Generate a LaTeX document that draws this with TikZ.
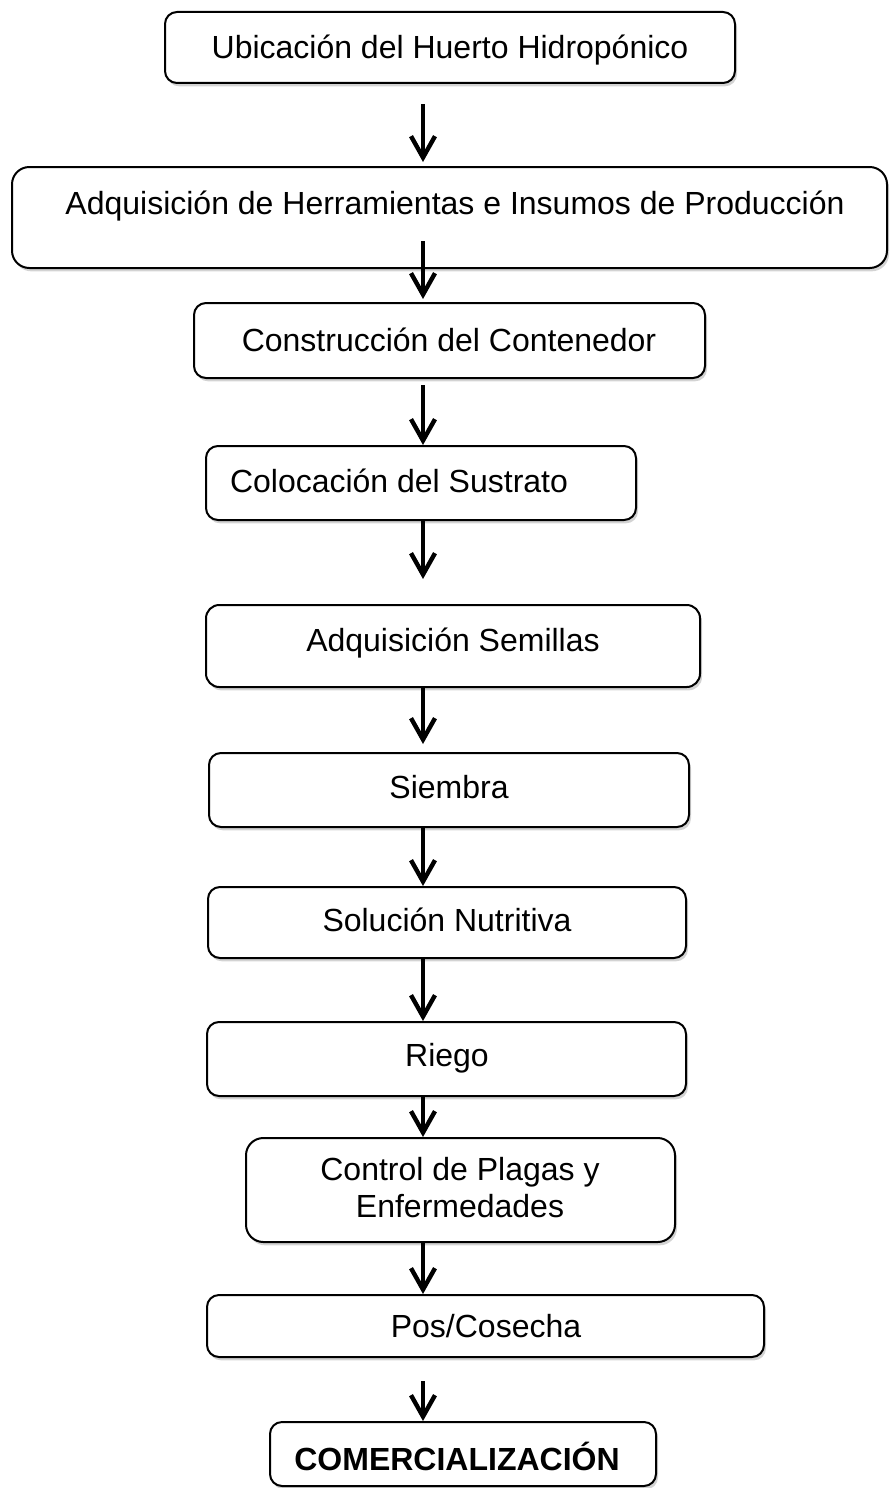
\documentclass[tikz,border=0pt]{standalone}
\usepackage{fontspec}
\setmainfont{Liberation Sans}
\usetikzlibrary{arrows.meta,shadows,calc}

\begin{document}
\begin{tikzpicture}[x=0.75pt,y=-0.75pt]
\tikzset{caja/.style={draw, line width=1.5pt, rounded corners=9pt, fill=white, inner sep=0pt,
    drop shadow={shadow xshift=1.5pt, shadow yshift=-2.5pt, opacity=0.35}},
  texto/.style={inner sep=0pt, align=center, font=\fontsize{24}{27.75}\selectfont},
  flecha/.style={line width=3.3pt, -{Straight Barb[length=16pt, width=18pt]}}}
\useasboundingbox (0,0) rectangle (889,1488);
\coordinate (eje) at (423,0);
% cajas
\node[caja, minimum width=427.5pt, minimum height=53.25pt] (b1) at (450,47.5) {};
\node[caja, rounded corners=13pt, minimum width=656.25pt, minimum height=75.75pt] (b2) at (449.5,217.5) {};
\node[caja, minimum width=383.25pt, minimum height=56.25pt] (b3) at (449.5,340.5) {};
\node[caja, minimum width=322.5pt, minimum height=55.5pt] (b4) at (421,483) {};
\node[caja, rounded corners=10pt, minimum width=370.5pt, minimum height=61.5pt] (b5) at (453,646) {};
\node[caja, minimum width=360pt, minimum height=55.5pt] (b6) at (449,790) {};
\node[caja, minimum width=358.5pt, minimum height=53.25pt] (b7) at (447,922.5) {};
\node[caja, minimum width=359.25pt, minimum height=55.5pt] (b8) at (446.5,1059) {};
\node[caja, rounded corners=13pt, minimum width=321.75pt, minimum height=78pt] (b9) at (460.5,1190) {};
\node[caja, minimum width=417.75pt, minimum height=46.5pt] (b10) at (485.5,1326) {};
\node[caja, minimum width=289.5pt, minimum height=48pt] (b11) at (463,1454) {};
% textos
\node[texto, anchor=base] (t1) at (450,58.5) {Ubicación del Huerto Hidropónico};
\node[texto, anchor=base] (t2) at (455,214.5) {Adquisición de Herramientas e Insumos de Producción};
\node[texto, anchor=base] (t3) at (449,351.5) {Construcción del Contenedor};
\node[texto, anchor=base] (t4) at (399,492.5) {Colocación del Sustrato};
\node[texto, anchor=base] (t5) at (453,651.5) {Adquisición Semillas};
\node[texto, anchor=base] (t6) at (449,798.5) {Siembra};
\node[texto, anchor=base] (t7) at (447,931.5) {Solución Nutritiva};
\node[texto, anchor=base] (t8) at (447,1066.5) {Riego};
\node[texto] (t9) at (460,1188) {Control de Plagas y\\Enfermedades};
\node[texto, anchor=base] (t10) at (486,1337.5) {Pos/Cosecha};
\node[texto, anchor=base, font=\fontsize{24}{27.75}\selectfont\bfseries] (t11) at (457,1470) {COMERCIALIZACIÓN};
% flechas
\draw[flecha] ($(b1.south -| eje)+(0,20)$) -- ($(b2.north -| eje)+(0,-4)$);
\draw[flecha] ($(b2.south -| eje)+(0,-28)$) -- ($(b3.north -| eje)+(0,-3)$);
\draw[flecha] ($(b3.south -| eje)+(0,6)$) -- (b4.north -| eje);
\draw[flecha] (b4.south -| eje) -- ($(b5.north -| eje)+(0,-25)$);
\draw[flecha] (b5.south -| eje) -- ($(b6.north -| eje)+(0,-8)$);
\draw[flecha] (b6.south -| eje) -- (b7.north -| eje);
\draw[flecha] (b7.south -| eje) -- (b8.north -| eje);
\draw[flecha] (b8.south -| eje) -- (b9.north -| eje);
\draw[flecha] (b9.south -| eje) -- (b10.north -| eje);
\draw[flecha] ($(b10.south -| eje)+(0,23)$) -- (b11.north -| eje);
\end{tikzpicture}
\end{document}
